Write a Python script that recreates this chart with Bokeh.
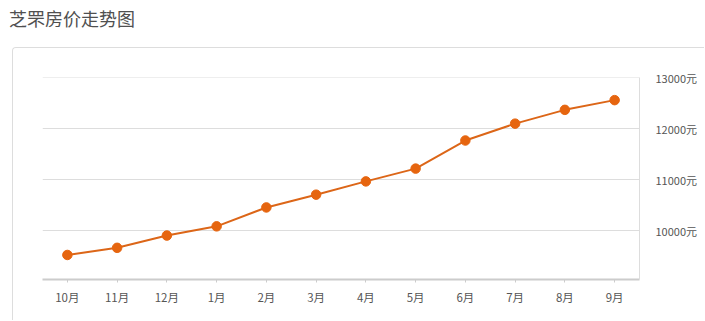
from bokeh.plotting import figure
from bokeh.models import ColumnDataSource, FactorRange, Range1d, FixedTicker, Div
from bokeh.layouts import column
from bokeh.embed import file_html
from bokeh.resources import INLINE

title_text = "芝罘房价走势图"
months = ["10月", "11月", "12月", "1月", "2月", "3月", "4月", "5月", "6月", "7月", "8月", "9月"]
prices = [9530, 9670, 9910, 10090, 10460, 10710, 10970, 11220, 11770, 12100, 12370, 12560]
y_ticks = [10000, 11000, 12000, 13000]
y_tick_labels = ["10000元", "11000元", "12000元", "13000元"]

FONT = "Noto Sans CJK SC"
ORANGE = "#e6650f"

source = ColumnDataSource(data=dict(month=months, price=prices))

div = Div(
    text=title_text,
    width=705,
    height=47,
    margin=(0, 0, 0, 0),
    styles={
        "font-size": "18px",
        "color": "#505050",
        "font-family": FONT,
        "line-height": "36px",
        "padding-left": "9px",
        "box-sizing": "border-box",
    },
)

p = figure(
    x_range=FactorRange(factors=months, range_padding=0),
    y_range=Range1d(9050, 13003),
    width=692,
    height=273,
    output_backend="svg",
    toolbar_location=None,
    y_axis_location="right",
    min_border_left=29,
    min_border_right=66,
    min_border_top=29,
    min_border_bottom=42,
    margin=(0, 0, 0, 12),
)
p.styles = {
    "border-left": "1px solid #dddddd",
    "border-top": "1px solid #dddddd",
    "border-top-left-radius": "4px",
}
p.outline_line_color = None
p.background_fill_color = "white"
p.border_fill_color = "white"

p.xgrid.grid_line_color = None
p.ygrid.grid_line_color = "#dddddd"
p.ygrid.grid_line_width = 1

yaxis = p.yaxis[0]
yaxis.ticker = FixedTicker(ticks=y_ticks)
yaxis.major_label_overrides = {t: l for t, l in zip(y_ticks, y_tick_labels)}
yaxis.axis_line_color = "#dddddd"
yaxis.major_tick_line_color = None
yaxis.minor_tick_line_color = None
yaxis.major_label_standoff = 10
yaxis.major_label_text_font = FONT
yaxis.major_label_text_font_size = "11px"
yaxis.major_label_text_color = "#555555"

xaxis = p.xaxis[0]
xaxis.axis_line_color = "#cccccc"
xaxis.axis_line_width = 2
xaxis.major_tick_line_color = "#cccccc"
xaxis.major_tick_out = 3
xaxis.major_tick_in = 0
xaxis.minor_tick_line_color = None
xaxis.major_label_standoff = 6
xaxis.major_label_text_font = FONT
xaxis.major_label_text_font_size = "11.5px"
xaxis.major_label_text_color = "#555555"

p.line(x="month", y="price", source=source, line_color="#dc6618", line_width=2)
p.scatter(x="month", y="price", source=source, size=9.5, fill_color=ORANGE, line_color=ORANGE)

layout = column(div, p, spacing=0, margin=(0, 0, 0, 0))

open("out.html", "w").write(file_html(layout, INLINE))
